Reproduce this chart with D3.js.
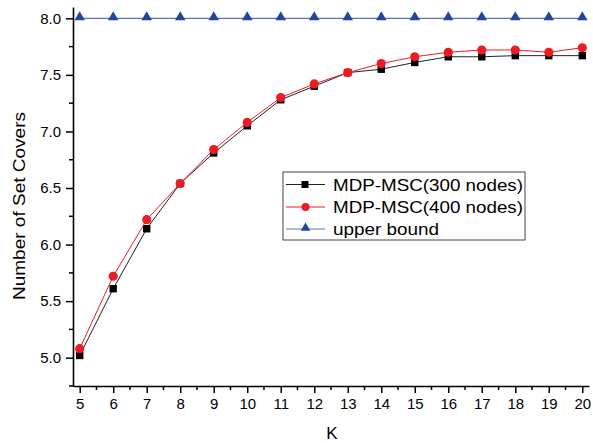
<!DOCTYPE html>
<html><head><meta charset="utf-8">
<script src="https://cdn.jsdelivr.net/npm/d3@7"></script>
<style>body{margin:0;background:#fff}svg{display:block}text{font-family:Arial,"Liberation Sans",sans-serif}</style>
</head><body><svg id="c" width="593" height="443"></svg>
<script>
const kValues = [5,6,7,8,9,10,11,12,13,14,15,16,17,18,19,20];
const msc300 = [5.02,5.61,6.14,6.54,6.81,7.05,7.28,7.40,7.52,7.55,7.61,7.66,7.66,7.67,7.67,7.67];
const msc400 = [5.08,5.72,6.22,6.54,6.84,7.08,7.30,7.42,7.52,7.60,7.66,7.70,7.72,7.72,7.70,7.74];
const upperBound = [8,8,8,8,8,8,8,8,8,8,8,8,8,8,8,8];
const yTicks = [5.0,5.5,6.0,6.5,7.0,7.5,8.0];
const yMinor = [4.75,5.25,5.75,6.25,6.75,7.25,7.75];
const xMinor = [5.5,6.5,7.5,8.5,9.5,10.5,11.5,12.5,13.5,14.5,15.5,16.5,17.5,18.5,19.5];
const seriesNames = ["MDP-MSC(300 nodes)","MDP-MSC(400 nodes)","upper bound"];

const svg = d3.select("#c");
const x = d3.scaleLinear().domain([4.8,20.2]).range([73,589]);
const y = d3.scaleLinear().domain([4.75,8.1]).range([386,7]);

// axes
const xAxis = svg.append("g").attr("transform","translate(0,386)")
  .call(d3.axisBottom(x).tickValues(kValues).tickFormat(d3.format("d")).tickSizeInner(7).tickSizeOuter(0).tickPadding(5));
xAxis.append("g").selectAll("line").data(xMinor).join("line")
  .attr("x1",d=>x(d)).attr("x2",d=>x(d)).attr("y1",0).attr("y2",4).attr("stroke","#000").attr("stroke-width",1.5);
const yAxis = svg.append("g").attr("transform","translate(73,0)")
  .call(d3.axisLeft(y).tickValues(yTicks).tickFormat(d3.format(".1f")).tickSizeInner(7).tickSizeOuter(0).tickPadding(5));
yAxis.append("g").selectAll("line").data(yMinor).join("line")
  .attr("y1",d=>y(d)).attr("y2",d=>y(d)).attr("x1",0).attr("x2",-4).attr("stroke","#000").attr("stroke-width",1.5);
svg.selectAll(".domain").attr("stroke","#000").attr("stroke-width",1.6);
svg.selectAll(".tick line").attr("stroke","#000").attr("stroke-width",1.5);
svg.selectAll(".tick text").attr("font-size",15).attr("fill","#000");

// axis titles
svg.append("text").attr("x",332).attr("y",439).attr("text-anchor","middle").attr("font-size",17).text("K");
svg.append("text").attr("transform","translate(25,206) rotate(-90)").attr("text-anchor","middle")
  .attr("font-size",17).attr("textLength",188).attr("lengthAdjust","spacingAndGlyphs").text("Number of Set Covers");

const line = d3.line().x((d,i)=>x(kValues[i])).y(d=>y(d));
const blueLine="#5b6fc6", blueMark="#22469d", red="#ed1c24";

// upper bound
svg.append("path").datum(upperBound).attr("d",line).attr("fill","none").attr("stroke",blueLine).attr("stroke-width",1.2);
const tri = d3.symbol().type(d3.symbolTriangle).size(48);
svg.append("g").selectAll("path").data(upperBound).join("path")
  .attr("d",tri).attr("transform",(d,i)=>`translate(${x(kValues[i])},${y(d)-1})`).attr("fill",blueMark);

// 300 nodes
svg.append("path").datum(msc300).attr("d",line).attr("fill","none").attr("stroke","#222").attr("stroke-width",1);
svg.append("g").selectAll("rect").data(msc300).join("rect")
  .attr("x",(d,i)=>x(kValues[i])-3.7).attr("y",d=>y(d)-3.7).attr("width",7.4).attr("height",7.4).attr("fill","#000");

// 400 nodes
svg.append("path").datum(msc400).attr("d",line).attr("fill","none").attr("stroke",red).attr("stroke-width",1);
svg.append("g").selectAll("circle").data(msc400).join("circle")
  .attr("cx",(d,i)=>x(kValues[i])).attr("cy",d=>y(d)).attr("r",4.6).attr("fill",red);

// legend
const lg = svg.append("g");
lg.append("rect").attr("x",283).attr("y",172).attr("width",242).attr("height",68).attr("fill","#fff").attr("stroke","#444").attr("stroke-width",1);
const rows = [184.5,207,229];
const lineColors = ["#222",red,blueLine];
rows.forEach((ry,i)=>{
  lg.append("line").attr("x1",286).attr("x2",325).attr("y1",ry).attr("y2",ry).attr("stroke",lineColors[i]).attr("stroke-width",1);
  lg.append("text").attr("x",333).attr("y",ry+6).attr("font-size",17)
    .attr("textLength", i<2 ? 190 : 106).attr("lengthAdjust","spacingAndGlyphs").text(seriesNames[i]);
});
lg.append("rect").attr("x",301.5).attr("y",rows[0]-3.5).attr("width",7).attr("height",7).attr("fill","#000");
lg.append("circle").attr("cx",305.5).attr("cy",rows[1]).attr("r",4).attr("fill",red);
lg.append("path").attr("d",d3.symbol().type(d3.symbolTriangle).size(40)).attr("transform",`translate(305.5,${rows[2]-1})`).attr("fill",blueMark);
</script></body></html>
